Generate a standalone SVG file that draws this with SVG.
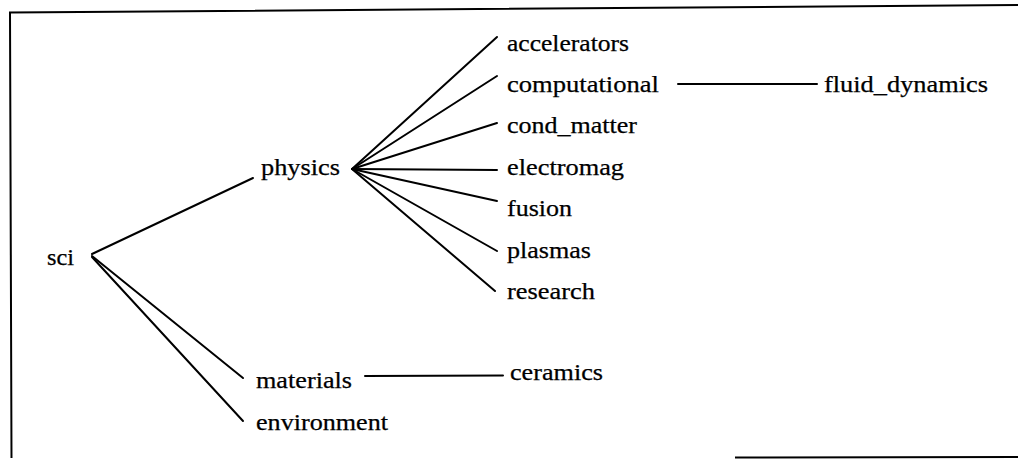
<svg xmlns="http://www.w3.org/2000/svg" width="1018" height="459" viewBox="0 0 1018 459">
<style>
text{font-family:"Liberation Serif","Times New Roman",serif;font-size:23px;fill:#000;stroke:#000;stroke-width:0.25;}
.c line{stroke:#000;stroke-width:2;fill:none;stroke-linecap:round;}
.frame{stroke:#000;stroke-width:2;fill:none;}
</style>
<rect width="1018" height="459" fill="#fff"/>
<path class="frame" d="M1018,5 L10,12.5 L11.5,458"/>
<line class="frame" x1="735" y1="457.5" x2="1018" y2="457"/>
<g class="c" id="connectors">
<line x1="92" y1="254" x2="253" y2="178"/>
<line x1="92" y1="256" x2="243" y2="378"/>
<line x1="92" y1="257" x2="243" y2="421"/>
<line x1="352" y1="169" x2="497" y2="37"/>
<line x1="352" y1="169" x2="497" y2="76"/>
<line x1="352" y1="169" x2="497" y2="123"/>
<line x1="352" y1="169" x2="497" y2="170"/>
<line x1="352" y1="169" x2="497" y2="201"/>
<line x1="352" y1="169" x2="497" y2="251"/>
<line x1="352" y1="169" x2="495" y2="291"/>
<line x1="678" y1="84" x2="817" y2="84"/>
<line x1="365" y1="376" x2="503" y2="375.5"/>
</g>
<g id="sci"><text x="47" y="265" textLength="27" lengthAdjust="spacingAndGlyphs">sci</text></g>
<g id="physics"><text x="261" y="175" textLength="79" lengthAdjust="spacingAndGlyphs">physics</text></g>
<g id="materials"><text x="256" y="388" textLength="96" lengthAdjust="spacingAndGlyphs">materials</text></g>
<g id="environment"><text x="256" y="429.5" textLength="132" lengthAdjust="spacingAndGlyphs">environment</text></g>
<g id="accelerators"><text x="507" y="51" textLength="122" lengthAdjust="spacingAndGlyphs">accelerators</text></g>
<g id="computational"><text x="507" y="91.5" textLength="152" lengthAdjust="spacingAndGlyphs">computational</text></g>
<g id="cond_matter"><text x="507" y="133" textLength="130" lengthAdjust="spacingAndGlyphs">cond_matter</text></g>
<g id="electromag"><text x="507" y="174.5" textLength="117" lengthAdjust="spacingAndGlyphs">electromag</text></g>
<g id="fusion"><text x="507" y="215.5" textLength="65" lengthAdjust="spacingAndGlyphs">fusion</text></g>
<g id="plasmas"><text x="507" y="257.5" textLength="84" lengthAdjust="spacingAndGlyphs">plasmas</text></g>
<g id="research"><text x="507" y="299" textLength="88" lengthAdjust="spacingAndGlyphs">research</text></g>
<g id="ceramics"><text x="510" y="379.5" textLength="93" lengthAdjust="spacingAndGlyphs">ceramics</text></g>
<g id="fluid_dynamics"><text x="824" y="91.5" textLength="164" lengthAdjust="spacingAndGlyphs">fluid_dynamics</text></g>
</svg>
